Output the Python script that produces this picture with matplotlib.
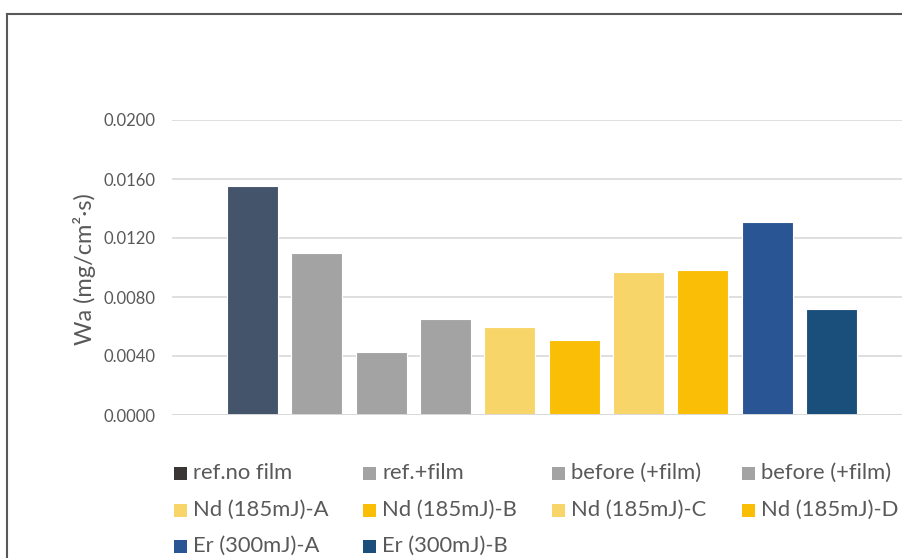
import matplotlib
matplotlib.use("Agg")
import matplotlib.pyplot as plt
from matplotlib.patches import Rectangle
from matplotlib.lines import Line2D

# Series names and absorption rates Wa (mg/cm²·s)
labels = ["ref.no film", "ref.+film", "before (+film)", "before (+film)",
          "Nd (185mJ)-A", "Nd (185mJ)-B", "Nd (185mJ)-C", "Nd (185mJ)-D",
          "Er (300mJ)-A", "Er (300mJ)-B"]
values = [0.0155, 0.0110, 0.0043, 0.0065, 0.0060, 0.0051,
          0.0097, 0.0098, 0.0131, 0.0072]
bar_colors = ["#44546A", "#A3A3A3", "#A3A3A3", "#A3A3A3",
              "#F8D568", "#F9BE05", "#F8D568", "#F9BE05",
              "#2A5594", "#1B4F7B"]
legend_colors = ["#3B3636"] + bar_colors[1:]
yticks = [0.0, 0.004, 0.008, 0.012, 0.016, 0.020]

TEXT = "#595959"
FONT = ["Lato", "DejaVu Sans"]
W, H = 902, 558

fig = plt.figure(figsize=(W / 100, H / 100), dpi=100)
fig.patch.set_facecolor("white")

def fx(px):
    return px / W

def fy(py):
    return 1 - py / H

# Plot area (right edge runs past the figure edge)
left, right, top, bottom = 172, 912, 120, 415
ax = fig.add_axes([fx(left), fy(bottom), fx(right - left), (bottom - top) / H])

x = list(range(len(values)))
ax.bar(x, values, width=0.79, color=bar_colors, edgecolor="#FFFFFF",
       linewidth=0.8, zorder=3)

ax.set_xlim(-1.25, 10.25)
ax.set_ylim(0, 0.02)
ax.set_yticks(yticks)
ax.set_yticklabels([f"{v:.4f}" for v in yticks], fontfamily=FONT,
                   fontsize=12, color=TEXT)
ax.set_xticks([])
ax.tick_params(axis="y", length=0, pad=12)
ax.grid(axis="y", color="#D9D9D9", linewidth=1.2, zorder=0)
for s in ax.spines.values():
    s.set_visible(False)
ax.axhline(0, color="#D9D9D9", linewidth=1.4, zorder=4)

fig.text(fx(84), fy(269), "Wa (mg/cm²·s)", rotation=90, ha="center",
         va="center", fontsize=17, color=TEXT, family=FONT)

# Legend: 4 columns, 3 rows
col_sq = [174, 363, 552, 742]
row_y = [473, 510, 546]
sq = 13
for i, (lab, c) in enumerate(zip(labels, legend_colors)):
    r, k = divmod(i, 4)
    x0, yc = col_sq[k], row_y[r]
    fig.add_artist(Rectangle((fx(x0), fy(yc + sq / 2)), sq / W, sq / H,
                             transform=fig.transFigure, facecolor=c,
                             edgecolor="none"))
    fig.text(fx(x0 + 19), fy(yc), lab, ha="left", va="center",
             fontsize=15.8, color=TEXT, family=FONT)

# Chart frame (top and left edges visible)
fig.add_artist(Line2D([fx(7.5), fx(7.5)], [fy(13.5), 0], transform=fig.transFigure,
                      color="#595959", linewidth=1.5))
fig.add_artist(Line2D([fx(7.5), 1], [fy(13.5), fy(13.5)], transform=fig.transFigure,
                      color="#595959", linewidth=1.5))

fig.savefig("out.png", dpi=100)
